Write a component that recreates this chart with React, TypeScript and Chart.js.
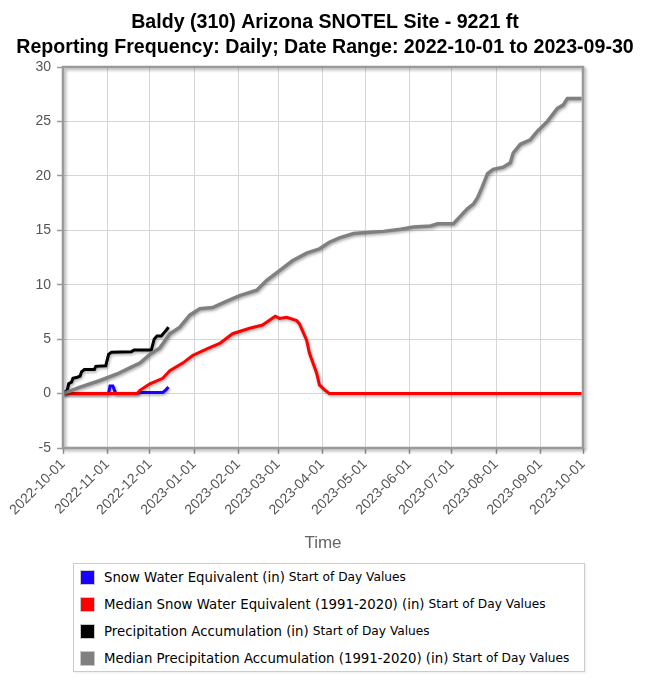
import React, { useEffect, useRef } from 'react';
import { Chart, registerables } from 'chart.js';

Chart.register(...registerables);

const TITLE_LINES = [
  'Baldy (310) Arizona SNOTEL Site - 9221 ft',
  'Reporting Frequency: Daily; Date Range: 2022-10-01 to 2023-09-30',
];
const X_AXIS_TITLE = 'Time';
const START_DATE = '2022-10-01';
const X_TICK_LABELS = [
  '2022-10-01', '2022-11-01', '2022-12-01', '2023-01-01', '2023-02-01', '2023-03-01',
  '2023-04-01', '2023-05-01', '2023-06-01', '2023-07-01', '2023-08-01', '2023-09-01', '2023-10-01',
];
const Y_MIN = -5;
const Y_MAX = 30;
const Y_STEP = 5;

// Snow Water Equivalent (in)
const SWE_DATES = [
  '2022-10-01', '2022-11-02', '2022-11-03', '2022-11-05', '2022-11-07', '2022-11-22',
  '2022-11-24', '2022-12-10', '2022-12-12', '2022-12-14',
];
const SWE_VALUES = [0, 0, 0.7, 0.7, 0, 0, 0.1, 0.1, 0.3, 0.6];

// Median Snow Water Equivalent (1991-2020) (in)
const MED_SWE_DATES = [
  '2022-10-01', '2022-11-22', '2022-11-24', '2022-12-01', '2022-12-10', '2022-12-15',
  '2022-12-24', '2022-12-31', '2023-01-10', '2023-01-19', '2023-01-28', '2023-02-09',
  '2023-02-18', '2023-02-27', '2023-03-02', '2023-03-07', '2023-03-14', '2023-03-16',
  '2023-03-21', '2023-03-23', '2023-03-28', '2023-03-30', '2023-04-03', '2023-04-06',
  '2023-09-30',
];
const MED_SWE_VALUES = [
  0, 0, 0.3, 0.9, 1.4, 2.1,
  2.8, 3.5, 4.1, 4.6, 5.5, 6.0,
  6.3, 7.1, 6.9, 7.0, 6.7, 6.4,
  4.9, 3.7, 1.9, 0.8, 0.3, 0,
  0,
];

// Precipitation Accumulation (in)
const PRECIP_DATES = [
  '2022-10-01', '2022-10-02', '2022-10-04', '2022-10-05', '2022-10-07', '2022-10-08',
  '2022-10-11', '2022-10-13', '2022-10-14', '2022-10-16', '2022-10-23', '2022-10-24',
  '2022-10-31', '2022-11-02', '2022-11-04', '2022-11-18', '2022-11-20', '2022-12-02',
  '2022-12-04', '2022-12-06', '2022-12-09', '2022-12-11', '2022-12-13', '2022-12-14',
];
const PRECIP_VALUES = [
  0, 0.1, 0.3, 0.9, 1.05, 1.4,
  1.5, 1.6, 2.0, 2.2, 2.2, 2.5,
  2.55, 3.6, 3.8, 3.85, 4.0, 4.0,
  5.0, 5.3, 5.3, 5.6, 5.9, 6.1,
];

// Median Precipitation Accumulation (1991-2020) (in)
const MED_PRECIP_DATES = [
  '2022-10-01', '2022-10-02', '2022-10-13', '2022-10-27', '2022-11-08', '2022-11-19',
  '2022-11-24', '2022-12-01', '2022-12-08', '2022-12-15', '2022-12-22', '2022-12-29',
  '2023-01-05', '2023-01-14', '2023-01-24', '2023-02-02', '2023-02-14', '2023-02-21',
  '2023-03-02', '2023-03-11', '2023-03-21', '2023-03-30', '2023-04-06', '2023-04-13',
  '2023-04-23', '2023-05-02', '2023-05-14', '2023-05-26', '2023-06-04', '2023-06-16',
  '2023-06-21', '2023-07-02', '2023-07-07', '2023-07-12', '2023-07-16', '2023-07-19',
  '2023-07-22', '2023-07-26', '2023-07-30', '2023-08-06', '2023-08-11', '2023-08-13',
  '2023-08-18', '2023-08-25', '2023-08-30', '2023-09-06', '2023-09-13', '2023-09-17',
  '2023-09-20', '2023-09-30',
];
const MED_PRECIP_VALUES = [
  0, 0.05, 0.6, 1.2, 1.8, 2.5,
  2.8, 3.6, 4.2, 5.5, 6.1, 7.2,
  7.8, 7.9, 8.5, 9.0, 9.5, 10.4,
  11.3, 12.2, 12.9, 13.3, 13.9, 14.3,
  14.7, 14.8, 14.9, 15.1, 15.3, 15.4,
  15.6, 15.6, 16.3, 17.0, 17.4, 18.0,
  18.9, 20.2, 20.6, 20.8, 21.2, 22.1,
  22.9, 23.3, 24.1, 25.0, 26.2, 26.5,
  27.1, 27.1,
];

const SERIES_LABELS = [
  'Snow Water Equivalent (in)',
  'Median Snow Water Equivalent (1991-2020) (in)',
  'Precipitation Accumulation (in)',
  'Median Precipitation Accumulation (1991-2020) (in)',
];
const SERIES_SUFFIX = 'Start of Day Values';
const SERIES_COLORS = ['#1a00ff', '#ff0000', '#000000', '#808080'];
const SERIES_WIDTHS = [3, 3, 3, 3.5];

const dayIndex = (d: string) =>
  Math.round((Date.parse(d + 'T00:00:00Z') - Date.parse(START_DATE + 'T00:00:00Z')) / 86400000);

const toPoints = (dates: string[], values: number[]) =>
  dates.map((d, i) => ({ x: dayIndex(d), y: values[i] }));

const lineShadow = {
  id: 'lineShadow',
  beforeDatasetDraw(chart: any) {
    const ctx = chart.ctx;
    ctx.save();
    ctx.shadowColor = 'rgba(0,0,0,0.35)';
    ctx.shadowBlur = 3;
    ctx.shadowOffsetX = 1;
    ctx.shadowOffsetY = 1.5;
  },
  afterDatasetDraw(chart: any) {
    chart.ctx.restore();
  },
};

const plotBorder = {
  id: 'plotBorder',
  afterDatasetsDraw(chart: any) {
    const { ctx, chartArea } = chart;
    const { left, top, right, bottom } = chartArea;
    ctx.save();
    ctx.shadowColor = 'rgba(0,0,0,0.3)';
    ctx.shadowBlur = 3;
    ctx.shadowOffsetX = 2;
    ctx.shadowOffsetY = 2;
    ctx.strokeStyle = '#9a9a9a';
    ctx.lineWidth = 2.5;
    ctx.strokeRect(left, top, right - left, bottom - top);
    ctx.restore();
  },
};

function ChartCanvas() {
  const ref = useRef<HTMLCanvasElement | null>(null);
  useEffect(() => {
    if (!ref.current) return;
    Chart.defaults.font.family = "'Liberation Sans', Arial, sans-serif";
    const seriesData = [
      toPoints(SWE_DATES, SWE_VALUES),
      toPoints(MED_SWE_DATES, MED_SWE_VALUES),
      toPoints(PRECIP_DATES, PRECIP_VALUES),
      toPoints(MED_PRECIP_DATES, MED_PRECIP_VALUES),
    ];
    const drawOrder = [3, 2, 1, 0];
    const chart = new Chart(ref.current, {
      type: 'line',
      data: {
        datasets: seriesData.map((pts, i) => ({
          label: SERIES_LABELS[i],
          data: pts,
          borderColor: SERIES_COLORS[i],
          backgroundColor: SERIES_COLORS[i],
          borderWidth: SERIES_WIDTHS[i],
          pointRadius: 0,
          tension: 0,
          fill: false,
          order: drawOrder[i],
          yAxisID: 'y',
        })),
      },
      options: {
        responsive: false,
        animation: false,
        layout: { padding: 0 },
        plugins: {
          legend: { display: false },
          tooltip: { enabled: false },
          title: {
            display: true,
            text: TITLE_LINES,
            color: '#000',
            font: { size: 19.6, weight: 'bold', lineHeight: '25px' },
            padding: { top: 10, bottom: 7 },
          },
        },
        scales: {
          x: {
            type: 'linear',
            min: dayIndex(X_TICK_LABELS[0]),
            max: dayIndex(X_TICK_LABELS[X_TICK_LABELS.length - 1]),
            afterBuildTicks: (s: any) => {
              s.ticks = X_TICK_LABELS.map((l) => ({ value: dayIndex(l) }));
            },
            afterFit: (s: any) => {
              s.height = 112;
            },
            ticks: {
              autoSkip: false,
              maxRotation: 45,
              minRotation: 45,
              color: '#555',
              font: { size: 14 },
              padding: 2,
              callback: (_v: any, i: number) => X_TICK_LABELS[i],
            },
            grid: { color: '#d6d6d6', tickColor: '#999', tickLength: 6, tickWidth: 1.5 },
            border: { display: false },
            title: {
              display: true,
              text: X_AXIS_TITLE,
              color: '#666',
              font: { size: 17 },
              padding: { top: 0, bottom: 6 },
            },
          },
          y: {
            min: Y_MIN,
            max: Y_MAX,
            afterFit: (s: any) => {
              s.width = 63;
            },
            ticks: { stepSize: Y_STEP, color: '#555', font: { size: 14 }, padding: 6 },
            grid: { color: '#d6d6d6', tickColor: '#999', tickLength: 6, tickWidth: 1.5 },
            border: { display: false },
          },
          ySpacer: {
            position: 'right',
            min: Y_MIN,
            max: Y_MAX,
            afterFit: (s: any) => {
              s.width = 67;
            },
            ticks: { display: false },
            grid: { display: false },
            border: { display: false },
          },
        },
      },
      plugins: [lineShadow, plotBorder],
    } as any);
    return () => chart.destroy();
  }, []);
  return <canvas ref={ref} width={650} height={560} style={{ display: 'block' }} />;
}

function Legend() {
  return (
    <div
      style={{
        position: 'absolute',
        left: 73,
        top: 563,
        width: 512,
        height: 109,
        boxSizing: 'border-box',
        border: '1px solid #cccccc',
        boxShadow: '1px 1px 2px rgba(0,0,0,0.08)',
        background: '#fff',
      }}
    >
      {SERIES_LABELS.map((label, i) => (
        <div
          key={label}
          style={{
            position: 'absolute',
            left: 6,
            top: 13 + i * 27 - 9,
            height: 18,
            display: 'flex',
            alignItems: 'center',
            whiteSpace: 'nowrap',
            fontFamily: "'DejaVu Sans', Verdana, sans-serif",
            color: '#000',
          }}
        >
          <span
            style={{
              display: 'inline-block',
              width: 13,
              height: 13,
              background: SERIES_COLORS[i],
              border: '1px solid #c8c8c8',
              marginRight: 9,
            }}
          />
          <span style={{ fontSize: 13.3 }}>{label}</span>
          <span style={{ fontSize: 12.2, marginLeft: 4 }}>{SERIES_SUFFIX}</span>
        </div>
      ))}
    </div>
  );
}

export default function App() {
  return (
    <div style={{ position: 'absolute', left: 0, top: 0, width: 650, height: 692, background: '#fff' }}>
      <ChartCanvas />
      <Legend />
    </div>
  );
}
